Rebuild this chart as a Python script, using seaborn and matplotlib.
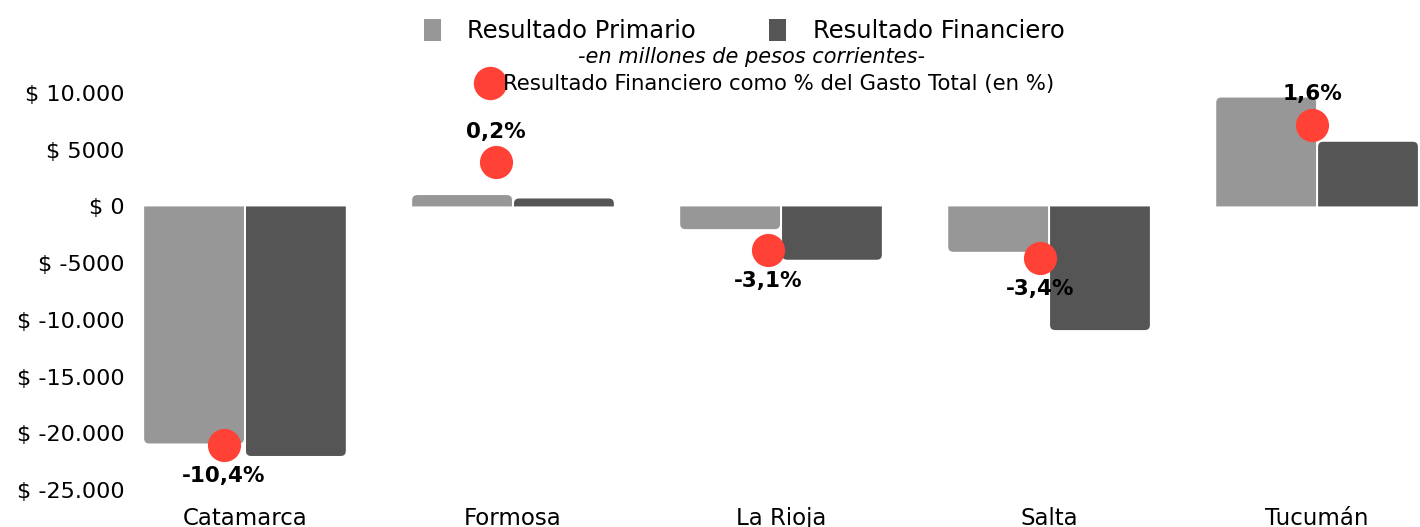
import numpy as np
import pandas as pd
import matplotlib.pyplot as plt
import seaborn as sns
from matplotlib.patches import PathPatch, Patch
from matplotlib.path import Path
from matplotlib.lines import Line2D

# datos (millones de pesos corrientes)
provincias = ["Catamarca", "Formosa", "La Rioja", "Salta", "Tucumán"]
resultado_primario = [-20900, 1000, -2000, -4000, 9600]
resultado_financiero = [-22000, 700, -4700, -10900, 5700]
pct_gasto_total = [-10.4, 0.2, -3.1, -3.4, 1.6]
y_ticks = [10000, 5000, 0, -5000, -10000, -15000, -20000, -25000]
y_tick_labels = ["$ 10.000", "$ 5000", "$ 0", "$ -5000", "$ -10.000",
                 "$ -15.000", "$ -20.000", "$ -25.000"]
series = ["Resultado Primario", "Resultado Financiero"]

GRIS = "#979797"
OSCURO = "#555555"
ROJO = "#FF4136"

sns.set_theme(style="white")
plt.rcParams["font.family"] = ["DejaVu Sans"]
plt.rcParams["text.color"] = "black"

df = pd.DataFrame({
    "provincia": provincias,
    series[0]: resultado_primario,
    series[1]: resultado_financiero,
}).melt(id_vars="provincia", var_name="serie", value_name="valor")

W, H = 1420, 527
fig = plt.figure(figsize=(W / 100, H / 100), dpi=100)
ax = fig.add_axes([130 / W, 37 / H, 1290 / W, 397 / H])

sns.barplot(data=df, x="provincia", y="valor", hue="serie", hue_order=series,
            palette=[GRIS, OSCURO], width=0.76, gap=0.02, saturation=1,
            legend=False, ax=ax)
ax.set_xlim(-0.429, 4.384)
ax.set_ylim(-25000, 10000)


def barra_redondeada(x, w, y0, h, rx, ry):
    """barra con esquinas redondeadas solo en el extremo"""
    fin = y0 + h
    s = 1 if h > 0 else -1
    ry = min(ry, abs(h))
    verts = [(x, y0), (x, fin - s * ry), (x, fin), (x + rx, fin),
             (x + w - rx, fin), (x + w, fin), (x + w, fin - s * ry),
             (x + w, y0), (x, y0)]
    codes = [Path.MOVETO, Path.LINETO, Path.CURVE3, Path.CURVE3,
             Path.LINETO, Path.CURVE3, Path.CURVE3, Path.LINETO, Path.CLOSEPOLY]
    return Path(verts, codes)


x_per_px = (4.384 + 0.429) / 1290
y_per_px = 35000 / 397
for p in list(ax.patches):
    if p.get_height() == 0:
        continue
    color = p.get_facecolor()
    p.set_visible(False)
    ruta = barra_redondeada(p.get_x(), p.get_width(), p.get_y(), p.get_height(),
                            5 * x_per_px, 5 * y_per_px)
    ax.add_patch(PathPatch(ruta, fc=color, ec="none", zorder=2))

ax.set_yticks(y_ticks, y_tick_labels)
ax.tick_params(axis="y", length=0, pad=4, labelsize=16, labelcolor="black")
ax.tick_params(axis="x", length=0, pad=12, labelsize=16.5, labelcolor="black")
ax.set_xlabel("")
ax.set_ylabel("")
sns.despine(ax=ax, left=True, bottom=True)

# puntos: resultado financiero como % del gasto total
ax2 = fig.add_axes(ax.get_position(), facecolor="none")
sns.scatterplot(x=np.arange(len(provincias)), y=pct_gasto_total, color=ROJO,
                s=570, linewidth=0, ax=ax2, zorder=3)
ax2.set_xlim(-0.3456, 4.397)
ax2.set_ylim(-12.08, 2.8)
ax2.set_axis_off()
for i, v in enumerate(pct_gasto_total):
    off = 22 if v > 0 else -22
    ax2.annotate(f"{v:.1f}%".replace(".", ","), (i, v), xytext=(0, off),
                 textcoords="offset points", ha="center", va="center",
                 fontsize=15.5, fontweight="bold", color="black", annotation_clip=False)

# leyendas
h1 = [Patch(facecolor=GRIS, edgecolor="none"), Patch(facecolor=OSCURO, edgecolor="none")]
fig.legend(h1, series, loc="center", bbox_to_anchor=(744 / W, 1 - 31 / H),
           ncol=2, frameon=False, fontsize=17.5, handlelength=0.7,
           handleheight=1.0, handletextpad=1.1, columnspacing=3.0)
fig.text(751 / W, 1 - 57 / H, "-en millones de pesos corrientes-", ha="center",
         va="center", fontsize=15, style="italic")
h2 = [Line2D([], [], marker="o", ls="", color=ROJO, markersize=24, markeredgewidth=0)]
fig.legend(h2, ["Resultado Financiero como % del Gasto Total (en %)"], loc="center",
           bbox_to_anchor=(767 / W, 1 - 84 / H), frameon=False, fontsize=15.3,
           handlelength=1.0, handletextpad=0.1)

fig.savefig("out.png", dpi=100)
